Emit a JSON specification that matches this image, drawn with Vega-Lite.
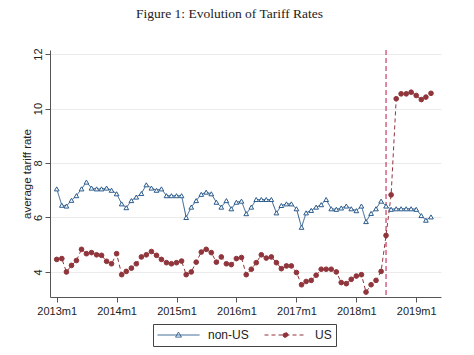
{
  "$schema": "https://vega.github.io/schema/vega-lite/v6.json",
  "width": 391,
  "height": 247,
  "autosize": {"type": "none"},
  "padding": {"left": 50, "top": 50, "right": 33, "bottom": 58},
  "background": "white",
  "title": {"text": "Figure 1: Evolution of Tariff Rates", "font": "Liberation Serif", "fontSize": 13.5, "fontWeight": "normal", "color": "#222222", "anchor": "middle", "frame": "group", "offset": 27, "dx": -16},
  "config": {
    "view": {"stroke": null},
    "axis": {"domainColor": "#555555", "tickColor": "#555555", "tickSize": 5, "labelFont": "Liberation Sans", "labelColor": "#222222", "labelFontSize": 11, "titleFont": "Liberation Sans", "titleFontWeight": "normal", "titleColor": "#222222", "titleFontSize": 11.5, "gridColor": "#ebebeb", "gridWidth": 1}
  },
  "data": {"values": [
    {"date": "2013-01", "non-US": 7.05, "US": 4.46},
    {"date": "2013-02", "non-US": 6.45, "US": 4.49},
    {"date": "2013-03", "non-US": 6.42, "US": 4.00},
    {"date": "2013-04", "non-US": 6.63, "US": 4.24},
    {"date": "2013-05", "non-US": 6.80, "US": 4.42},
    {"date": "2013-06", "non-US": 7.05, "US": 4.83},
    {"date": "2013-07", "non-US": 7.30, "US": 4.67},
    {"date": "2013-08", "non-US": 7.08, "US": 4.71},
    {"date": "2013-09", "non-US": 7.05, "US": 4.63},
    {"date": "2013-10", "non-US": 7.05, "US": 4.61},
    {"date": "2013-11", "non-US": 7.08, "US": 4.39},
    {"date": "2013-12", "non-US": 7.00, "US": 4.30},
    {"date": "2014-01", "non-US": 6.87, "US": 4.67},
    {"date": "2014-02", "non-US": 6.50, "US": 3.90},
    {"date": "2014-03", "non-US": 6.36, "US": 4.02},
    {"date": "2014-04", "non-US": 6.62, "US": 4.14},
    {"date": "2014-05", "non-US": 6.75, "US": 4.30},
    {"date": "2014-06", "non-US": 6.88, "US": 4.55},
    {"date": "2014-07", "non-US": 7.20, "US": 4.63},
    {"date": "2014-08", "non-US": 7.08, "US": 4.75},
    {"date": "2014-09", "non-US": 7.00, "US": 4.61},
    {"date": "2014-10", "non-US": 7.05, "US": 4.46},
    {"date": "2014-11", "non-US": 6.80, "US": 4.34},
    {"date": "2014-12", "non-US": 6.80, "US": 4.30},
    {"date": "2015-01", "non-US": 6.80, "US": 4.34},
    {"date": "2015-02", "non-US": 6.80, "US": 4.40},
    {"date": "2015-03", "non-US": 6.00, "US": 3.90},
    {"date": "2015-04", "non-US": 6.38, "US": 4.00},
    {"date": "2015-05", "non-US": 6.62, "US": 4.36},
    {"date": "2015-06", "non-US": 6.85, "US": 4.73},
    {"date": "2015-07", "non-US": 6.93, "US": 4.83},
    {"date": "2015-08", "non-US": 6.87, "US": 4.71},
    {"date": "2015-09", "non-US": 6.56, "US": 4.36},
    {"date": "2015-10", "non-US": 6.38, "US": 4.55},
    {"date": "2015-11", "non-US": 6.62, "US": 4.30},
    {"date": "2015-12", "non-US": 6.32, "US": 4.27},
    {"date": "2016-01", "non-US": 6.56, "US": 4.49},
    {"date": "2016-02", "non-US": 6.60, "US": 4.53},
    {"date": "2016-03", "non-US": 6.14, "US": 3.90},
    {"date": "2016-04", "non-US": 6.38, "US": 4.10},
    {"date": "2016-05", "non-US": 6.66, "US": 4.34},
    {"date": "2016-06", "non-US": 6.66, "US": 4.63},
    {"date": "2016-07", "non-US": 6.66, "US": 4.51},
    {"date": "2016-08", "non-US": 6.66, "US": 4.55},
    {"date": "2016-09", "non-US": 6.17, "US": 4.34},
    {"date": "2016-10", "non-US": 6.44, "US": 4.12},
    {"date": "2016-11", "non-US": 6.50, "US": 4.22},
    {"date": "2016-12", "non-US": 6.50, "US": 4.22},
    {"date": "2017-01", "non-US": 6.32, "US": 3.98},
    {"date": "2017-02", "non-US": 5.64, "US": 3.53},
    {"date": "2017-03", "non-US": 6.17, "US": 3.65},
    {"date": "2017-04", "non-US": 6.26, "US": 3.69},
    {"date": "2017-05", "non-US": 6.38, "US": 3.88},
    {"date": "2017-06", "non-US": 6.47, "US": 4.10},
    {"date": "2017-07", "non-US": 6.66, "US": 4.10},
    {"date": "2017-08", "non-US": 6.32, "US": 4.10},
    {"date": "2017-09", "non-US": 6.30, "US": 4.00},
    {"date": "2017-10", "non-US": 6.35, "US": 3.61},
    {"date": "2017-11", "non-US": 6.42, "US": 3.57},
    {"date": "2017-12", "non-US": 6.32, "US": 3.73},
    {"date": "2018-01", "non-US": 6.25, "US": 3.85},
    {"date": "2018-02", "non-US": 6.42, "US": 3.90},
    {"date": "2018-03", "non-US": 5.85, "US": 3.26},
    {"date": "2018-04", "non-US": 6.15, "US": 3.53},
    {"date": "2018-05", "non-US": 6.32, "US": 3.69},
    {"date": "2018-06", "non-US": 6.60, "US": 4.02},
    {"date": "2018-07", "non-US": 6.42, "US": 5.34},
    {"date": "2018-08", "non-US": 6.30, "US": 6.83},
    {"date": "2018-09", "non-US": 6.32, "US": 10.36},
    {"date": "2018-10", "non-US": 6.32, "US": 10.54},
    {"date": "2018-11", "non-US": 6.32, "US": 10.54},
    {"date": "2018-12", "non-US": 6.32, "US": 10.60},
    {"date": "2019-01", "non-US": 6.30, "US": 10.48},
    {"date": "2019-02", "non-US": 6.07, "US": 10.33},
    {"date": "2019-03", "non-US": 5.90, "US": 10.42},
    {"date": "2019-04", "non-US": 6.02, "US": 10.56}
  ]},
  "layer": [
    {
      "data": {"values": [{"date": "2018-07"}]},
      "mark": {"type": "rule", "color": "#cc3a63", "strokeWidth": 1.2, "strokeDash": [5, 3]},
      "encoding": {
        "x": {"field": "date", "type": "temporal"}
      }
    },
    {
      "transform": [{"fold": ["non-US", "US"], "as": ["series", "rate"]}],
      "mark": {"type": "line", "strokeWidth": 1},
      "encoding": {
        "x": {"field": "date", "type": "temporal",
          "scale": {"type": "utc", "domain": [{"year": 2012, "month": 11, "date": 21, "utc": true}, {"year": 2019, "month": 6, "date": 1, "utc": true}]},
          "axis": {"title": null, "grid": false, "tickCount": {"interval": "year", "step": 1}, "labelExpr": "utcFormat(datum.value, '%Y') + 'm1'", "labelPadding": 3, "labelFlush": false, "labelOverlap": false}},
        "y": {"field": "rate", "type": "quantitative",
          "scale": {"domain": [3.08, 12.15], "nice": false, "zero": false},
          "axis": {"title": "average tariff rate", "values": [4, 6, 8, 10, 12], "grid": true, "labelAngle": -90, "labelAlign": "center", "labelBaseline": "bottom", "labelPadding": 2, "titlePadding": 0}},
        "color": {"field": "series", "type": "nominal",
          "scale": {"domain": ["non-US", "US"], "range": ["#2a5b8c", "#90353b"]},
          "legend": {"orient": "none", "legendX": 103, "legendY": 274, "direction": "horizontal", "title": null,
            "strokeColor": "#444444", "fillColor": "white", "padding": 4, "labelFont": "Liberation Sans", "labelFontSize": 12, "labelColor": "#222222",
            "symbolSize": 1764, "symbolOffset": 0, "labelOffset": 8, "columnPadding": 15, "symbolStrokeWidth": 1, "clipHeight": 14,
            "encoding": {"symbols": {
              "shape": {"value": {"expr": "datum.value === 'US' ? 'M-1,0L1,0M-0.12,0A0.12,0.12,0,1,0,0.12,0A0.12,0.12,0,1,0,-0.12,0Z' : 'M-1,0L1,0M-0.14,0.1L0.14,0.1L0,-0.14Z'"}},
              "fill": {"value": {"expr": "datum.value === 'US' ? '#90353b' : 'white'"}}
            }}}},
        "strokeDash": {"field": "series", "type": "nominal",
          "scale": {"domain": ["non-US", "US"], "range": [[1, 0], [4, 3]]}}
      }
    },
    {
      "transform": [{"fold": ["non-US", "US"], "as": ["series", "rate"]}],
      "mark": {"type": "point", "size": 22, "strokeWidth": 1, "opacity": 1},
      "encoding": {
        "x": {"field": "date", "type": "temporal"},
        "y": {"field": "rate", "type": "quantitative"},
        "color": {"field": "series", "type": "nominal"},
        "shape": {"field": "series", "type": "nominal", "legend": null,
          "scale": {"domain": ["US", "non-US"], "range": ["circle", "triangle-up"]}},
        "fill": {"field": "series", "type": "nominal", "legend": null,
          "scale": {"domain": ["US", "non-US"], "range": ["#90353b", "white"]}}
      }
    }
  ]
}
